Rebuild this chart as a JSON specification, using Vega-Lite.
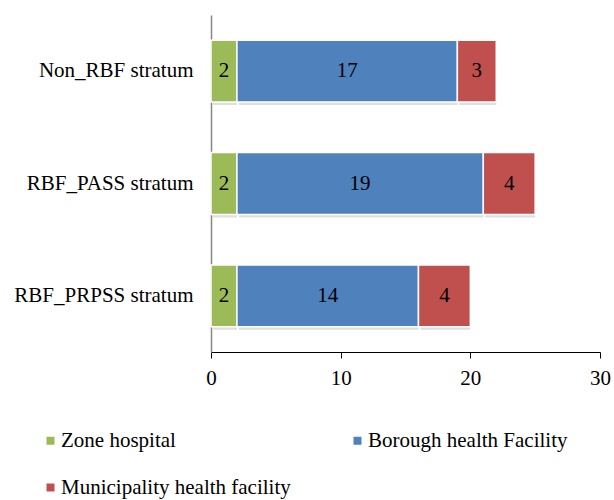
{
  "$schema": "https://vega.github.io/schema/vega-lite/v6.json",
  "width": 389,
  "height": 337,
  "autosize": "none",
  "padding": {"left": 211, "top": 15, "right": 14, "bottom": 148},
  "background": "white",
  "config": {
    "font": "Liberation Serif",
    "view": {"stroke": null}
  },
  "data": {
    "values": [
      {"stratum": "Non_RBF stratum", "type": "Zone hospital", "order": 1, "count": 2},
      {"stratum": "Non_RBF stratum", "type": "Borough health Facility", "order": 2, "count": 17},
      {"stratum": "Non_RBF stratum", "type": "Municipality health facility", "order": 3, "count": 3},
      {"stratum": "RBF_PASS stratum", "type": "Zone hospital", "order": 1, "count": 2},
      {"stratum": "RBF_PASS stratum", "type": "Borough health Facility", "order": 2, "count": 19},
      {"stratum": "RBF_PASS stratum", "type": "Municipality health facility", "order": 3, "count": 4},
      {"stratum": "RBF_PRPSS stratum", "type": "Zone hospital", "order": 1, "count": 2},
      {"stratum": "RBF_PRPSS stratum", "type": "Borough health Facility", "order": 2, "count": 14},
      {"stratum": "RBF_PRPSS stratum", "type": "Municipality health facility", "order": 3, "count": 4}
    ]
  },
  "transform": [
    {"stack": "count", "groupby": ["stratum"], "sort": [{"field": "order", "order": "ascending"}], "as": ["x0", "x1"]}
  ],
  "encoding": {
    "y": {
      "field": "stratum",
      "type": "nominal",
      "sort": ["Non_RBF stratum", "RBF_PASS stratum", "RBF_PRPSS stratum"],
      "scale": {"paddingInner": 0.45, "paddingOuter": 0.225},
      "axis": {
        "title": null,
        "ticks": false,
        "domainColor": "#868686",
        "domainWidth": 1.5,
        "labelFontSize": 21,
        "labelColor": "#000000",
        "labelPadding": 18,
        "labelFont": "Liberation Serif",
        "labelLimit": 300
      }
    }
  },
  "layer": [
    {
      "mark": {"type": "bar", "color": "#7f7f7f", "opacity": 0.25, "xOffset": 2, "yOffset": 3},
      "encoding": {
        "x": {"field": "x0", "type": "quantitative"},
        "x2": {"field": "x1"}
      }
    },
    {
      "mark": {"type": "bar", "stroke": "white", "strokeWidth": 1.5},
      "encoding": {
        "x": {
          "field": "x0",
          "type": "quantitative",
          "scale": {"domain": [0, 30], "nice": false},
          "axis": {
            "title": null,
            "values": [0, 10, 20, 30],
            "grid": false,
            "domainColor": "#000000",
            "domainWidth": 1,
            "tickColor": "#000000",
            "tickSize": 6,
            "labelPadding": 9,
            "labelFontSize": 21,
            "labelColor": "#000000",
            "labelFont": "Liberation Serif",
            "labelFlush": false
          }
        },
        "x2": {"field": "x1"},
        "color": {
          "field": "type",
          "type": "nominal",
          "scale": {
            "domain": ["Zone hospital", "Borough health Facility", "Municipality health facility"],
            "range": ["#9BBB59", "#4F81BD", "#C0504D"]
          },
          "legend": {
            "title": null,
            "orient": "none",
            "legendX": -171,
            "legendY": 415,
            "direction": "horizontal",
            "columns": 2,
            "columnPadding": 56,
            "rowPadding": 25,
            "symbolType": "square",
            "symbolSize": 64,
            "symbolStrokeWidth": 0,
            "labelFontSize": 21,
            "labelFont": "Liberation Serif",
            "labelColor": "#000000",
            "labelOffset": 0,
            "labelLimit": 400
          }
        }
      }
    },
    {
      "transform": [
        {"fold": ["x0", "x1"], "as": ["edge", "pos"]}
      ],
      "mark": {"type": "text", "fontSize": 21, "color": "#000000", "font": "Liberation Serif", "baseline": "middle", "align": "center"},
      "encoding": {
        "x": {"field": "pos", "type": "quantitative", "aggregate": "mean"},
        "detail": {"field": "type", "type": "nominal"},
        "text": {"field": "count", "type": "quantitative", "aggregate": "max"}
      }
    }
  ]
}
